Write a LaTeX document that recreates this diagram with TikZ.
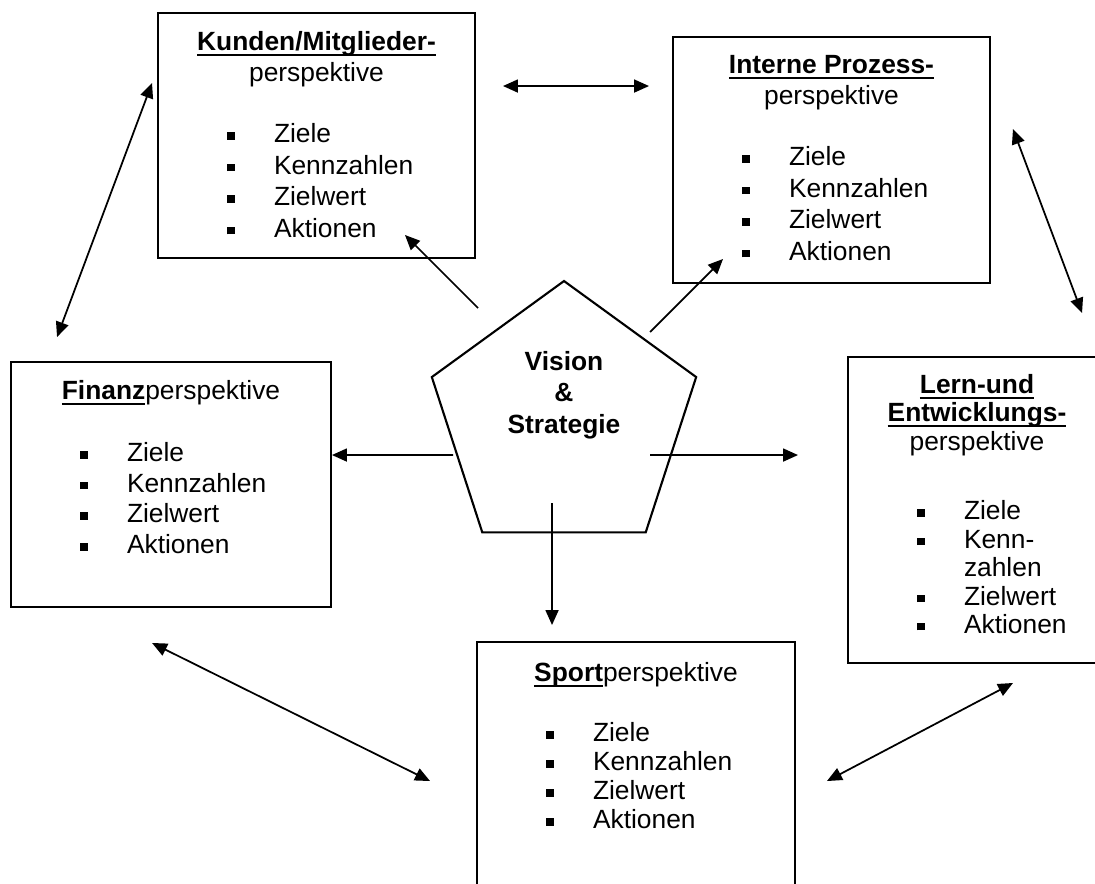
\documentclass[tikz,border=0pt]{standalone}
\usepackage{fontspec}
\setmainfont{Liberation Sans}
\usetikzlibrary{calc,shapes.geometric,arrows.meta}

\newsavebox{\kopfbox}
\newcommand{\kopf}[1]{\leavevmode\sbox{\kopfbox}{\textbf{#1}}\rlap{\rule[-3.2pt]{\wd\kopfbox}{1pt}}\usebox{\kopfbox}}
\newcommand{\ziel}[1]{\par\makebox[\linewidth][l]{\hspace*{13.85mm}\rule[0.6mm]{1.5mm}{1.5mm}\hspace*{7.85mm}#1}}
\newcommand{\zeilen}[1]{\fontsize{15}{#1}\selectfont}

\tikzset{
  pbox/.style={draw, line width=1.2pt, inner sep=0pt, outer sep=0pt},
  pent/.style={draw, line width=1.2pt, regular polygon, regular polygon sides=5, minimum size=5.56cm, inner sep=0pt, outer sep=0pt},
  beide/.style={{Triangle[length=3mm,width=2.6mm]}-{Triangle[length=3mm,width=2.6mm]}, line width=1pt},
  hin/.style={-{Triangle[length=3mm,width=2.6mm]}, line width=1pt}
}

\begin{document}
\begin{tikzpicture}[x=0.02cm, y=-0.02cm, font=\fontsize{15}{17.5}\selectfont]
\useasboundingbox (0,0) rectangle (1095,883);
\node[pbox] (kunden) at (316.5,135.5) {\begin{minipage}[c][4.9cm][t]{6.34cm}\zeilen{18pt}\vspace*{3.6mm}\centering
\kopf{Kunden/Mitglieder-}\\perspektive\par\vspace{16.6pt}
\ziel{Ziele}\ziel{Kennzahlen}\ziel{Zielwert}\ziel{Aktionen}\end{minipage}};
\node[pbox] (interne) at (831.5,160) {\begin{minipage}[c][4.92cm][t]{6.34cm}\zeilen{18pt}\vspace*{3.6mm}\centering
\kopf{Interne Prozess-}\\perspektive\par\vspace{16.6pt}
\ziel{Ziele}\ziel{Kennzahlen}\ziel{Zielwert}\ziel{Aktionen}\end{minipage}};
\node[pbox] (finanz) at (171,484.5) {\begin{minipage}[c][4.9cm][t]{6.4cm}\zeilen{17.5pt}\vspace*{3.6mm}\centering
\kopf{Finanz}perspektive\par\vspace{18pt}
\ziel{Ziele}\ziel{Kennzahlen}\ziel{Zielwert}\ziel{Aktionen}\end{minipage}};
\node[pbox] (lern) at (977,510) {\begin{minipage}[c][6.12cm][t]{5.16cm}\zeilen{16.2pt}\vspace*{3.4mm}\centering
\kopf{Lern-und}\\\kopf{Entwicklungs-}\\perspektive\par\vspace{23.4pt}
\ziel{Ziele}\ziel{Kenn-}\par\makebox[\linewidth][l]{\hspace*{23.2mm}zahlen}\ziel{Zielwert}\ziel{Aktionen}\end{minipage}};
\node[pbox] (sport) at (636,777) {\begin{minipage}[c][5.4cm][t]{6.36cm}\zeilen{16.5pt}\vspace*{4mm}\centering
\kopf{Sport}perspektive\par\vspace{18pt}
\ziel{Ziele}\ziel{Kennzahlen}\ziel{Zielwert}\ziel{Aktionen}\end{minipage}};

\node[pent] (pent) at (564,420) {};
\node[font=\fontsize{15}{18}\selectfont\bfseries, align=center] (vision) at (564,395) {Vision\\\&\\Strategie};

% Vision -> Perspektiven
\draw[hin] ($(pent.center)+(-86,-112)$) -- ($(kunden.south east)+(-70,-23)$);
\draw[hin] ($(pent.center)+(86,-88)$) -- ($(interne.south west)+(50,-24)$);
\draw[hin] ($(pent.center)+(-111,35)$) -- ($(finanz.north east)+(1,93)$);
\draw[hin] ($(pent.center)+(86,35)$) -- ($(lern.north west)+(-50,98)$);
\draw[hin] ($(pent.center)+(-12,83)$) -- ($(sport.north west)+(75,-17)$);

% Perspektiven untereinander
\draw[beide] ($(kunden.north east)+(28,73)$) -- ($(interne.north west)+(-24,49)$);
\draw[beide] ($(kunden.north west)+(-6,70)$) -- ($(finanz.north west)+(46,-25)$);
\draw[beide] ($(interne.north east)+(23,92)$) -- ($(lern.north west)+(234,-44)$);
\draw[beide] ($(finanz.south west)+(141,36)$) -- ($(sport.north west)+(-47,139)$);
\draw[beide] ($(sport.north east)+(32,139)$) -- ($(lern.south west)+(165,20)$);
\end{tikzpicture}
\end{document}
